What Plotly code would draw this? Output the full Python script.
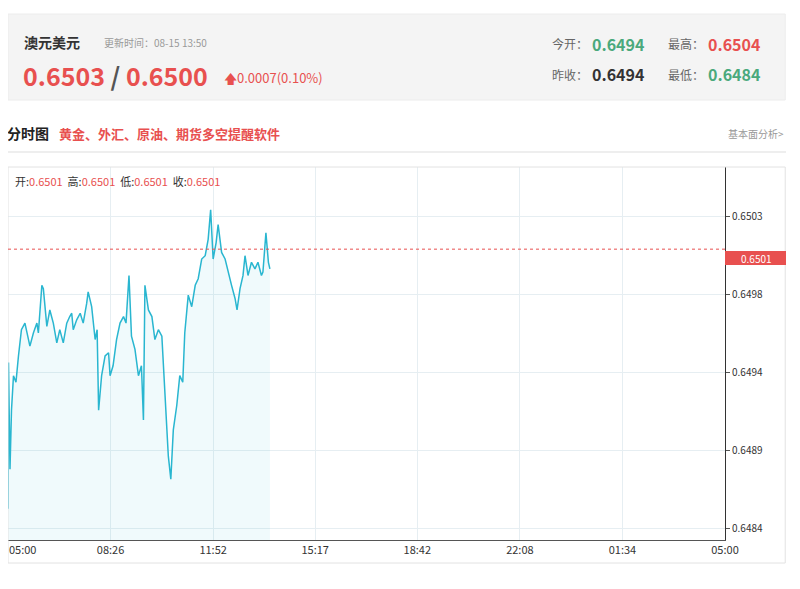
import plotly.graph_objects as go

# minutes after 05:00 and price
minutes = [0, 1, 4, 7, 11, 16, 21, 27, 34, 44, 51, 58, 61, 68, 71, 78, 84, 91, 98, 104,
           111, 118, 124, 128, 131, 138, 145, 151, 158, 161, 168, 175, 179, 182, 188, 195,
           202, 205, 211, 218, 225, 232, 237, 243, 248, 255, 262, 268, 272, 275, 282, 289,
           295, 302, 309, 312, 319, 322, 327, 332, 339, 345, 351, 355, 362, 369, 376, 382,
           389, 396, 402, 407, 412, 418, 422, 429, 436, 442, 449, 456, 460, 466, 472, 476,
           482, 489, 496, 502, 509, 512, 518, 523, 526]
prices = [0.64852, 0.64941, 0.64876, 0.64912, 0.64933, 0.64929, 0.64945, 0.64961, 0.64965,
          0.64951, 0.64959, 0.64965, 0.64959, 0.64988, 0.64986, 0.64963, 0.64973, 0.64965,
          0.64953, 0.64961, 0.64953, 0.64965, 0.64969, 0.64971, 0.64961, 0.64967, 0.64971,
          0.64965, 0.64977, 0.64984, 0.64975, 0.64955, 0.64961, 0.64912, 0.64933, 0.64945,
          0.64947, 0.64933, 0.64939, 0.64955, 0.64965, 0.64969, 0.64965, 0.64994, 0.64957,
          0.64949, 0.64933, 0.64939, 0.64906, 0.64988, 0.64973, 0.64969, 0.64955, 0.64961,
          0.64957, 0.64941, 0.64904, 0.64884, 0.64870, 0.64900, 0.64915, 0.64933, 0.64929,
          0.64959, 0.64982, 0.64975, 0.64988, 0.64992, 0.65004, 0.65006, 0.65016, 0.65034,
          0.65004, 0.65014, 0.65025, 0.65008, 0.65004, 0.64996, 0.64988, 0.64980, 0.64973,
          0.64986, 0.64994, 0.65006, 0.64994, 0.65002, 0.64998, 0.65002, 0.64994, 0.64996,
          0.65020, 0.65002, 0.64998]

x_tickvals = [0, 206, 412, 617, 822, 1028, 1234, 1440]
x_ticktext = ['05:00', '08:26', '11:52', '15:17', '18:42', '22:08', '01:34', '05:00']
y_tickvals = [0.6484, 0.648875, 0.64935, 0.649825, 0.6503]
y_ticktext = ['0.6484', '0.6489', '0.6494', '0.6498', '0.6503']
last_price = 0.6501

# page offsets the figure 8px and the shot comes out slightly narrower
W, H = 792, 573
def px(p): return min((p - 8) / 778, 1)
def py(p): return 1 - (p - 8) / H

RED = '#e8504f'
GREEN = '#4aa97c'
FONT = 'Noto Sans CJK SC'

fig = go.Figure()
fig.add_trace(go.Scatter(x=minutes, y=prices, mode='lines',
                         line=dict(color='#29b6d0', width=1.5),
                         fill='tozeroy', fillcolor='rgba(41,182,208,0.07)',
                         hoverinfo='skip'))

fig.update_layout(
    width=W, height=H, margin=dict(l=0, r=0, t=0, b=0),
    paper_bgcolor='white', plot_bgcolor='white', showlegend=False,
    font=dict(family=FONT, color='#333', size=11),
    xaxis=dict(domain=[px(8), px(725)], range=[0, 1440], tickvals=x_tickvals,
               ticktext=x_ticktext, showgrid=True, gridcolor='#e6eef2', zeroline=False,
               showline=True, linecolor='#555', ticks='', tickfont=dict(size=11, color='#333')),
    yaxis=dict(domain=[py(540), py(167)], range=[0.64833, 0.6506], side='right',
               tickvals=y_tickvals, ticktext=y_ticktext, showgrid=True, gridcolor='#e6eef2',
               zeroline=False, showline=True, linecolor='#333', ticks='outside', ticklen=4,
               tickcolor='#555', tickfont=dict(size=10, color='#333')),
)

shapes = [
    dict(type='rect', xref='paper', yref='paper', x0=px(8), x1=px(786) - 0.001, y0=py(100), y1=py(14),
         fillcolor='#f4f4f4', line=dict(color='#ececec', width=1), layer='below'),
    dict(type='line', xref='paper', yref='paper', x0=px(8), x1=px(786), y0=py(152), y1=py(152),
         line=dict(color='#ddd', width=1)),
    dict(type='rect', xref='paper', yref='paper', x0=px(8), x1=px(786) - 0.001, y0=py(563), y1=py(167),
         line=dict(color='#e2e2e2', width=1)),
    dict(type='line', xref='paper', yref='y', x0=px(8), x1=px(725), y0=last_price, y1=last_price,
         line=dict(color=RED, width=1, dash='dot')),
    dict(type='rect', xref='paper', yref='paper', x0=px(725), x1=px(786), y0=py(265), y1=py(251),
         fillcolor=RED, line=dict(width=0)),
]
fig.update_layout(shapes=shapes)

def note(x, y, text, size=12, color='#333', anchor='left'):
    fig.add_annotation(x=px(x), y=py(y), xref='paper', yref='paper', text=text, showarrow=False,
                       xanchor=anchor, yanchor='middle', font=dict(size=size, color=color, family=FONT))

note(22, 42, '<b>澳元美元</b>', 14, '#333')
note(102, 43, '更新时间：08-15 13:50', 10, '#999')
note(21, 75, f'<b><span style="color:{RED}">0.6503</span> <span style="color:#555">/</span> '
             f'<span style="color:{RED}">0.6500</span></b>', 25, RED)
note(222, 78, '🡅0.0007(0.10%)', 13, RED)
note(550, 44, '今开：', 12, '#666')
note(590, 44, '<b>0.6494</b>', 16, GREEN)
note(666, 44, '最高：', 12, '#666')
note(706, 44, '<b>0.6504</b>', 16, RED)
note(550, 74, '昨收：', 12, '#666')
note(590, 74, '<b>0.6494</b>', 16, '#333')
note(666, 74, '最低：', 12, '#666')
note(706, 74, '<b>0.6484</b>', 16, GREEN)
note(5, 133, '<b>分时图</b>', 14, '#222')
note(57, 133, '<b>黄金、外汇、原油、期货多空提醒软件</b>', 13, RED)
note(786, 133, '基本面分析>', 10, '#999', 'right')
note(13, 181, f'开:<span style="color:{RED}">0.6501</span>  高:<span style="color:{RED}">0.6501</span>  '
              f'低:<span style="color:{RED}">0.6501</span>  收:<span style="color:{RED}">0.6501</span>',
     11, '#333')
note(756, 258, '0.6501', 10, 'white', 'center')
# first time label gets clipped by plotly at the left edge
note(7, 549, x_ticktext[0], 11, '#333')

fig.write_html('out.html')
